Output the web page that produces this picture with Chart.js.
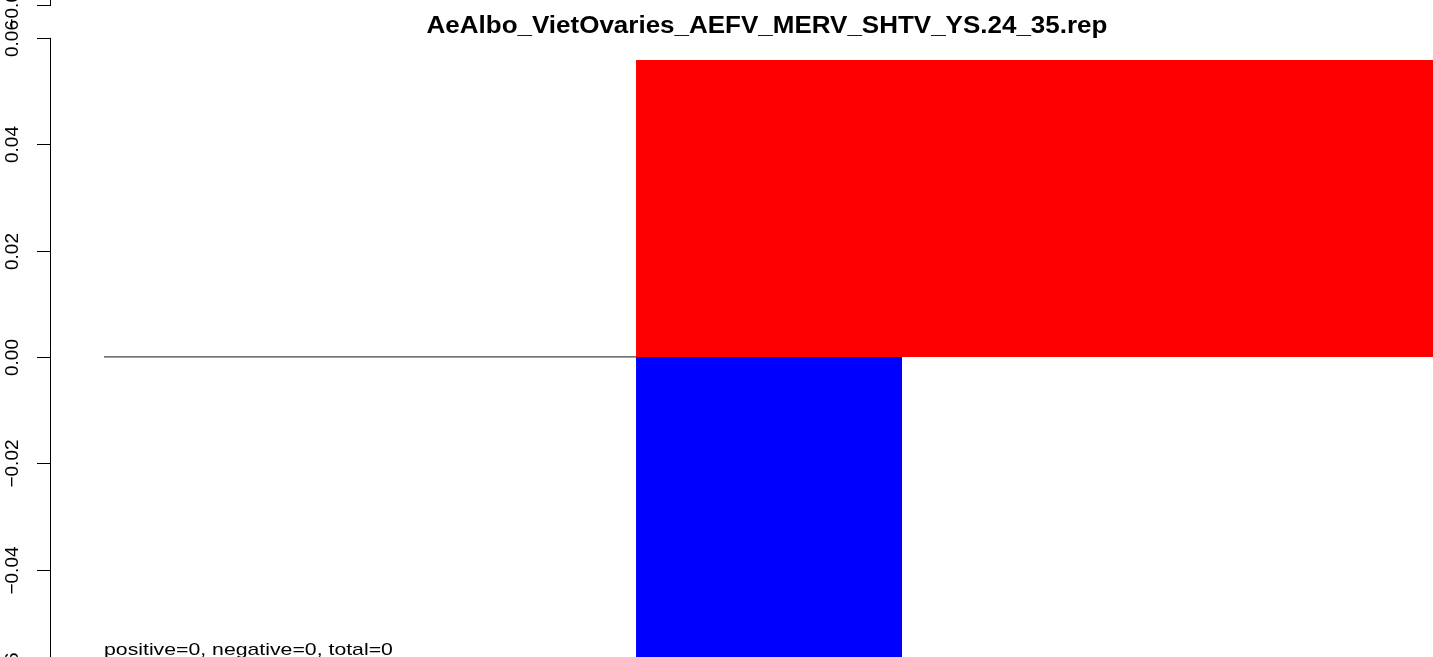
<!DOCTYPE html>
<html>
<head>
<meta charset="utf-8">
<script src="https://cdn.jsdelivr.net/npm/chart.js@4.4.1/dist/chart.umd.min.js"></script>
<style>
  html, body { margin: 0; padding: 0; background: #fff; }
  #wrap { width: 1433px; height: 657px; position: relative; }
</style>
</head>
<body>
<div id="wrap"><canvas id="chart"></canvas></div>
<script>
const titleText = 'AeAlbo_VietOvaries_AEFV_MERV_SHTV_YS.24_35.rep';
const noteText = 'positive=0, negative=0, total=0';

// y axis
const tickValues = [-0.06, -0.04, -0.02, 0, 0.02, 0.04, 0.06];
const tickLabels = ['\u22120.06', '\u22120.04', '\u22120.02', '0.00', '0.02', '0.04', '0.06'];
// bottom tick of the panel above, peeking in at the top
const upperTickValues = [0.0662];
const upperTickLabels = ['\u22120.06'];

// bars: [start, end] in bar units, and height
const zeroBarX = [0, 2];
const zeroBarValue = 0;
const negBarX = [2, 3];
const negBarValue = -0.0575;
const posBarX = [2, 5];
const posBarValue = 0.0558;

const Y_MIN = -0.0564, Y_MAX = 0.0671;
const X_MIN = -0.391, X_MAX = 4.996;

function rect(xs, v) {
  return [{ x: xs[0], y: 0 }, { x: xs[0], y: v }, { x: xs[1], y: v }, { x: xs[1], y: 0 }];
}

const axisLeft = 50;

const baseAxisPlugin = {
  id: 'baseAxis',
  afterDraw(chart) {
    const ctx = chart.ctx;
    const ys = chart.scales.y;
    ctx.save();
    ctx.strokeStyle = '#000';
    ctx.fillStyle = '#000';
    ctx.lineWidth = 1;

    // main axis
    const top = ys.getPixelForValue(tickValues[tickValues.length - 1]);
    const bot = ys.getPixelForValue(tickValues[0]);
    ctx.beginPath();
    ctx.moveTo(axisLeft + 0.5, top);
    ctx.lineTo(axisLeft + 0.5, bot);
    ctx.stroke();

    const drawTick = (v, label) => {
      const py = Math.round(ys.getPixelForValue(v)) + 0.5;
      ctx.beginPath();
      ctx.moveTo(axisLeft - 13, py);
      ctx.lineTo(axisLeft + 1, py);
      ctx.stroke();
      ctx.save();
      ctx.translate(18, py);
      ctx.rotate(-Math.PI / 2);
      ctx.font = '19px "Liberation Sans", Arial, sans-serif';
      ctx.textAlign = 'center';
      ctx.textBaseline = 'alphabetic';
      ctx.fillText(label, 0, 0);
      ctx.restore();
    };
    tickValues.forEach((v, i) => drawTick(v, tickLabels[i]));

    // upper panel's axis stub
    upperTickValues.forEach((v, i) => {
      const py = Math.round(ys.getPixelForValue(v)) + 0.5;
      ctx.beginPath();
      ctx.moveTo(axisLeft + 0.5, py);
      ctx.lineTo(axisLeft + 0.5, 0);
      ctx.stroke();
      drawTick(v, upperTickLabels[i]);
    });

    // title
    ctx.save();
    ctx.font = 'bold 23px "Liberation Sans", Arial, sans-serif';
    ctx.textAlign = 'center';
    ctx.textBaseline = 'alphabetic';
    ctx.translate(767, 33);
    ctx.scale(1.13, 1);
    ctx.fillText(titleText, 0, 0);
    ctx.restore();

    // note
    ctx.save();
    ctx.font = '17px "Liberation Sans", Arial, sans-serif';
    ctx.textAlign = 'left';
    ctx.textBaseline = 'alphabetic';
    ctx.translate(chart.scales.x.getPixelForValue(zeroBarX[0]), 655);
    ctx.scale(1.25, 1);
    ctx.fillText(noteText, 0, 0);
    ctx.restore();

    ctx.restore();
  }
};

new Chart(document.getElementById('chart'), {
  type: 'line',
  data: {
    datasets: [
      {
        data: rect(posBarX, posBarValue),
        fill: 'origin',
        backgroundColor: '#ff0000',
        borderColor: '#ff0000',
        borderWidth: 0,
        pointRadius: 0,
        tension: 0
      },
      {
        data: rect(negBarX, negBarValue),
        fill: 'origin',
        backgroundColor: '#0000ff',
        borderColor: '#0000ff',
        borderWidth: 0,
        pointRadius: 0,
        tension: 0
      },
      {
        data: [{ x: zeroBarX[0], y: zeroBarValue }, { x: zeroBarX[1], y: zeroBarValue }],
        fill: false,
        borderColor: '#444444',
        borderWidth: 1.2,
        pointRadius: 0
      }
    ]
  },
  options: {
    responsive: true,
    maintainAspectRatio: false,
    animation: false,
    layout: { padding: 0 },
    plugins: {
      legend: { display: false },
      tooltip: { enabled: false },
      title: { display: false }
    },
    scales: {
      x: { type: 'linear', min: X_MIN, max: X_MAX, display: false },
      y: { type: 'linear', min: Y_MIN, max: Y_MAX, display: false }
    }
  },
  plugins: [baseAxisPlugin]
});
</script>
</body>
</html>
